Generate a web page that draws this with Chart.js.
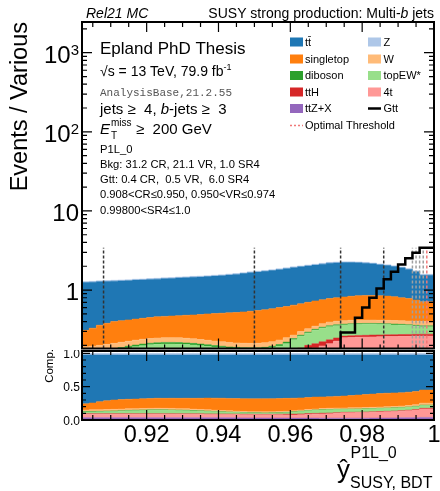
<!DOCTYPE html>
<html>
<head>
<meta charset="utf-8">
<script src="https://cdn.jsdelivr.net/npm/chart.js@4/dist/chart.umd.min.js"></script>
<style>
  html, body { margin: 0; padding: 0; background: #fff; }
  #wrap { position: relative; width: 440px; height: 491px; overflow: hidden; }
  canvas { position: absolute; left: 0; }
  #top { top: 0; }
  #comp { top: 350px; }
</style>
</head>
<body>
<div id="wrap">
  <canvas id="top" width="440" height="350"></canvas>
  <canvas id="comp" width="440" height="141"></canvas>
</div>
<script>
// BDT score bins, 0.002 wide
const xMin = 0.902, xMax = 1.0, binWidth = 0.002, nBins = 49;
const binEdges = [];
for (let i = 0; i <= nBins; i++) binEdges.push(+(xMin + i * binWidth).toFixed(3));

// background yields per bin, listed from the bottom of the stack upwards
const ttZX = [.045,.045,.045,.046,.046,.046,.047,.047,.047,.048,.048,.048,.049,.049,.049,.050,.050,.050,.051,.051,
  .051,.052,.052,.052,.053,.053,.053,.054,.055,.056,.057,.058,.059,.060,.061,.062,.062,.063,.063,.063,
  .063,.063,.063,.063,.063,.063,.063,.062,.062];
const fourTop = [.065,.066,.067,.067,.068,.069,.069,.070,.071,.071,.072,.073,.073,.074,.075,.075,.076,.077,.077,.078,
  .079,.079,.080,.081,.081,.082,.084,.086,.088,.090,.093,.102,.113,.125,.136,.148,.164,.187,.189,.191,
  .192,.193,.194,.195,.196,.197,.197,.199,.200];
const ttH = [.012,.011,.011,.011,.011,.011,.011,.011,.011,.011,.011,.011,.011,.011,.011,.011,.011,.011,.011,.011,
  .011,.012,.012,.012,.013,.014,.015,.016,.019,.022,.025,.025,.028,.025,.025,.025,.022,.012,.013,.013,
  .013,.014,.014,.014,.014,.014,.015,.015,.015];
const topEW = [.028,.030,.033,.036,.041,.046,.051,.057,.063,.068,.072,.074,.075,.074,.072,.069,.065,.060,.055,.050,
  .045,.039,.036,.033,.030,.028,.028,.030,.034,.042,.060,.075,.085,.100,.108,.110,.107,.100,.101,.101,
  .102,.100,.097,.094,.090,.086,.081,.074,.067];
const diboson = [.010,.010,.010,.010,.010,.010,.010,.010,.010,.010,.010,.010,.010,.010,.010,.010,.010,.010,.010,.009,
  .009,.009,.009,.009,.009,.009,.009,.009,.009,.010,.009,.009,.009,.009,.009,.009,.009,.009,.009,.009,
  .009,.009,.009,.009,.009,.009,.009,.009,.009];
const wjets = [.030,.030,.030,.030,.030,.030,.031,.031,.031,.031,.031,.032,.032,.032,.032,.031,.030,.029,.028,.028,
  .027,.027,.026,.026,.026,.027,.027,.027,.029,.030,.026,.031,.031,.031,.036,.041,.041,.039,.040,.041,
  .039,.039,.039,.039,.040,.041,.042,.044,.047];
const singletop = [.100,.118,.134,.160,.174,.188,.191,.194,.197,.201,.206,.212,.215,.220,.226,.234,.243,.253,.268,.278,
  .288,.297,.305,.317,.328,.337,.349,.358,.366,.370,.375,.370,.375,.380,.380,.385,.395,.410,.420,.432,
  .437,.437,.434,.426,.413,.390,.373,.347,.310];
const ttbar = [.948,.938,.928,.917,.907,.897,.896,.896,.906,.905,.915,.915,.929,.934,.948,.953,.968,.972,.982,.996,
  1.011,1.035,1.059,1.088,1.117,1.137,1.161,1.185,1.213,1.242,1.276,1.299,1.318,1.337,1.370,1.404,1.403,1.403,1.388,1.363,
  1.329,1.290,1.236,1.198,1.154,1.111,1.043,.956,.830];
const zjets = [.032,.032,.032,.033,.033,.033,.034,.034,.034,.035,.035,.035,.036,.036,.037,.037,.037,.038,.038,.039,
  .039,.040,.041,.042,.043,.043,.044,.045,.047,.048,.049,.051,.052,.053,.055,.056,.057,.057,.057,.057,
  .056,.055,.054,.052,.051,.049,.047,.044,.040];

// signal
const gtt = [.010,.010,.011,.011,.012,.012,.013,.013,.014,.014,.015,.015,.016,.017,.018,.018,.019,.020,.021,.022,
  .023,.024,.025,.027,.029,.031,.033,.035,.038,.041,.045,.050,.056,.064,.075,.090,.12,.29,.29,.446,
  .60,.80,1.05,1.37,1.70,2.11,2.52,2.96,3.42];

// region boundaries
const cutsRegion = [0.908, 0.950, 0.974, 0.986];
const cutsScan = [0.994, 0.995, 0.996, 0.997];
const cutsOptimal = [0.998];

// axes
const yMinTop = 0.1826, yMaxTop = 2445;
const compMax = 1.035;
const xMajor = [0.92, 0.94, 0.96, 0.98, 1.0];
const xMajorLabels = ["0.92", "0.94", "0.96", "0.98", "1"];
const yMajorTop = [1, 10, 100, 1000];
const yMajorTopLabels = [["1", ""], ["10", ""], ["10", "2"], ["10", "3"]];
const compMajor = [0, 0.5, 1.0];
const compMajorLabels = ["0.0", "0.5", "1.0"];

const xMinor = [];
for (let v = 0.905; v < 1.0; v += 0.005) xMinor.push(+v.toFixed(3));
const yMinorTop = [];
[0.1, 1, 10, 100, 1000].forEach(d => {
  for (let m = 2; m <= 9; m++) { const v = m * d; if (v > yMinTop && v < yMaxTop) yMinorTop.push(v); }
});
const compMinor = [0.1, 0.2, 0.3, 0.4, 0.6, 0.7, 0.8, 0.9];

const stack = [
  { name: "ttZ+X", data: ttZX, color: "#9467bd" },
  { name: "4t", data: fourTop, color: "#ff9896" },
  { name: "ttH", data: ttH, color: "#d62728" },
  { name: "topEW*", data: topEW, color: "#98df8a" },
  { name: "diboson", data: diboson, color: "#2ca02c" },
  { name: "W", data: wjets, color: "#ffbb78" },
  { name: "singletop", data: singletop, color: "#ff7f0e" },
  { name: "tt\u0304", data: ttbar, color: "#1f77b4" },
  { name: "Z", data: zjets, color: "#aec7e8" }
];

const legendCol1 = [["tt\u0304", "#1f77b4"], ["singletop", "#ff7f0e"], ["diboson", "#2ca02c"], ["ttH", "#d62728"], ["ttZ+X", "#9467bd"]];
const legendCol2 = [["Z", "#aec7e8"], ["W", "#ffbb78"], ["topEW*", "#98df8a"], ["4t", "#ff9896"]];

const SANS = '"Liberation Sans", Arial, Helvetica, sans-serif';
const MONO = '"Liberation Mono", "Courier New", monospace';
const font = (size, style) => (style ? style + " " : "") + size + "px " + SANS;

function histPoints(values) {
  const pts = values.map((v, i) => ({ x: binEdges[i], y: v }));
  pts.push({ x: binEdges[values.length], y: values[values.length - 1] });
  return pts;
}

const totals = ttbar.map((_, i) => stack.reduce((s, p) => s + p.data[i], 0));
let running = new Array(nBins).fill(0);
const topSets = [], compSets = [];
stack.forEach((p, k) => {
  running = running.map((r, i) => r + p.data[i]);
  const common = {
    fill: k === 0 ? "start" : "-1",
    backgroundColor: p.color,
    borderColor: p.color,
    borderWidth: 0.5,
    pointRadius: 0,
    stepped: "after",
    order: 3
  };
  topSets.push(Object.assign({ data: histPoints(running) }, common));
  compSets.push(Object.assign({ data: histPoints(running.map((r, i) => r / totals[i])) }, common));
});

const gttMax = Math.max(...gtt);
function cutSet(c, color) {
  return {
    data: [{ x: c, y: yMinTop }, { x: c, y: gttMax }],
    borderColor: color, borderWidth: 1.5, borderDash: [3, 2],
    pointRadius: 0, fill: false, order: 2
  };
}
cutsRegion.forEach(c => topSets.push(cutSet(c, "#333333")));
cutsScan.forEach(c => topSets.push(cutSet(c, "#a0a0a0")));
cutsOptimal.forEach(c => topSets.push(cutSet(c, "#f07878")));
topSets.push({
  data: histPoints(gtt), borderColor: "#000", borderWidth: 2.5,
  stepped: "after", pointRadius: 0, fill: false, order: 1
});

function rich(ctx, x, y, parts) {
  let cx = x;
  parts.forEach(([t, f, dy]) => {
    ctx.font = f;
    ctx.fillText(t, cx, y + (dy || 0));
    cx += ctx.measureText(t).width;
  });
  return cx;
}

function ticksX(ctx, xs, yEdge, dir, lenMaj, lenMin) {
  ctx.beginPath();
  xMinor.forEach(v => { const p = xs.getPixelForValue(v); ctx.moveTo(p, yEdge); ctx.lineTo(p, yEdge + dir * lenMin); });
  xMajor.forEach(v => { const p = xs.getPixelForValue(v); ctx.moveTo(p, yEdge); ctx.lineTo(p, yEdge + dir * lenMaj); });
  ctx.stroke();
}
function ticksY(ctx, ys, a, majors, minors, lenMaj, lenMin) {
  ctx.beginPath();
  minors.forEach(v => { const p = ys.getPixelForValue(v);
    ctx.moveTo(a.left, p); ctx.lineTo(a.left + lenMin, p); ctx.moveTo(a.right, p); ctx.lineTo(a.right - lenMin, p); });
  majors.forEach(v => { const p = ys.getPixelForValue(v);
    ctx.moveTo(a.left, p); ctx.lineTo(a.left + lenMaj, p); ctx.moveTo(a.right, p); ctx.lineTo(a.right - lenMaj, p); });
  ctx.stroke();
}

const topDecor = {
  id: "topDecor",
  afterDraw(chart) {
    const { ctx, chartArea: a } = chart;
    const xs = chart.scales.x, ys = chart.scales.y;
    ctx.save();
    ctx.strokeStyle = "#000";
    ctx.fillStyle = "#000";
    ctx.lineWidth = 1.2;
    ticksX(ctx, xs, a.top, 1, 10, 5);
    ticksX(ctx, xs, a.bottom, -1, 10, 4);
    ticksY(ctx, ys, a, yMajorTop, yMinorTop, 10, 5);
    ctx.lineWidth = 2;
    ctx.strokeRect(a.left, a.top, a.right - a.left, a.bottom - a.top);

    // y tick labels
    ctx.textBaseline = "alphabetic";
    yMajorTop.forEach((v, i) => {
      const p = ys.getPixelForValue(v);
      const [base, sup] = yMajorTopLabels[i];
      ctx.font = font(24);
      const wb = ctx.measureText(base).width;
      ctx.font = font(15);
      const ws = sup ? ctx.measureText(sup).width : 0;
      const x0 = 79 - wb - ws;
      ctx.textAlign = "left";
      ctx.font = font(24);
      ctx.fillText(base, x0, p + 10);
      if (sup) { ctx.font = font(15); ctx.fillText(sup, x0 + wb, p + 2); }
    });

    // y title
    ctx.save();
    ctx.translate(27, 22);
    ctx.rotate(-Math.PI / 2);
    ctx.textAlign = "right";
    ctx.font = font(23.5);
    ctx.fillText("Events / Various", 0, 0);
    ctx.restore();

    // header
    ctx.textAlign = "left";
    ctx.font = font(14, "italic");
    ctx.fillText("Rel21 MC", 86, 18);
    const hdr = [["SUSY strong production: Multi-", font(14)], ["b", font(14, "italic")], [" jets", font(14)]];
    let hw = 0;
    hdr.forEach(([t, f]) => { ctx.font = f; hw += ctx.measureText(t).width; });
    rich(ctx, 434 - hw, 18, hdr);

    // annotation block
    ctx.font = font(17);
    ctx.fillText("Epland PhD Thesis", 100, 54);
    rich(ctx, 100, 76, [["\u221As = 13 TeV, 79.9 fb", font(14)], ["-1", font(9), -6]]);
    ctx.fillStyle = "#555";
    ctx.font = "11px " + MONO;
    ctx.fillText("AnalysisBase,21.2.55", 100, 96);
    ctx.fillStyle = "#000";
    rich(ctx, 100, 114, [["jets \u2265  4, ", font(15)], ["b", font(15, "italic")], ["-jets \u2265  3", font(15)]]);
    ctx.font = font(15, "italic");
    ctx.fillText("E", 100, 133.5);
    ctx.font = font(10);
    ctx.fillText("miss", 111, 126);
    ctx.fillText("T", 111, 139);
    ctx.font = font(15);
    ctx.fillText("\u2265  200 GeV", 136, 133.5);
    ctx.font = font(11.2);
    const notes = ["P1L_0", "Bkg: 31.2 CR, 21.1 VR, 1.0 SR4", "Gtt: 0.4 CR,  0.5 VR,  6.0 SR4",
      "0.908<CR\u22640.950, 0.950<VR\u22640.974", "0.99800<SR4\u22641.0"];
    notes.forEach((t, i) => ctx.fillText(t, 100, 152.5 + i * 15.3));

    // legend
    const rows = [42, 59, 75.5, 92, 108.5, 125.5];
    ctx.font = font(11);
    ctx.textBaseline = "middle";
    legendCol1.forEach(([t, c], i) => {
      ctx.fillStyle = c; ctx.fillRect(290, rows[i] - 4.5, 13, 9);
      ctx.fillStyle = "#000"; ctx.fillText(t, 305, rows[i] + 0.5);
    });
    legendCol2.forEach(([t, c], i) => {
      ctx.fillStyle = c; ctx.fillRect(368, rows[i] - 4.5, 13, 9);
      ctx.fillStyle = "#000"; ctx.fillText(t, 383.5, rows[i] + 0.5);
    });
    ctx.lineWidth = 2.5;
    ctx.beginPath(); ctx.moveTo(368, rows[4]); ctx.lineTo(381, rows[4]); ctx.stroke();
    ctx.fillText("Gtt", 383.5, rows[4] + 0.5);
    ctx.strokeStyle = "#f07878";
    ctx.lineWidth = 1.5;
    ctx.setLineDash([2, 2]);
    ctx.beginPath(); ctx.moveTo(290, rows[5]); ctx.lineTo(303, rows[5]); ctx.stroke();
    ctx.setLineDash([]);
    ctx.fillText("Optimal Threshold", 305, rows[5] + 0.5);
    ctx.restore();
  }
};

const compDecor = {
  id: "compDecor",
  afterDraw(chart) {
    const { ctx, chartArea: a } = chart;
    const xs = chart.scales.x, ys = chart.scales.y;
    const off = 350;
    ctx.save();
    // dotted unity line
    ctx.strokeStyle = "#fff";
    ctx.lineWidth = 1;
    ctx.setLineDash([2, 2]);
    const p1 = ys.getPixelForValue(1.0) - 1;
    ctx.beginPath(); ctx.moveTo(a.left, p1); ctx.lineTo(a.right, p1); ctx.stroke();
    ctx.setLineDash([]);

    ctx.strokeStyle = "#000";
    ctx.fillStyle = "#000";
    ctx.lineWidth = 1.2;
    ticksX(ctx, xs, a.top, 1, 10, 4);
    ticksX(ctx, xs, a.bottom, -1, 10, 5);
    ticksY(ctx, ys, a, compMajor, compMinor, 8, 4);
    ctx.lineWidth = 2;
    ctx.strokeRect(a.left, a.top, a.right - a.left, a.bottom - a.top);

    // comp y labels
    ctx.font = font(12);
    ctx.textAlign = "right";
    ctx.textBaseline = "alphabetic";
    compMajor.forEach((v, i) => ctx.fillText(compMajorLabels[i], 80, ys.getPixelForValue(v) + 4.5));

    ctx.save();
    ctx.translate(53, 349 - off);
    ctx.rotate(-Math.PI / 2);
    ctx.font = font(11.5);
    ctx.textAlign = "right";
    ctx.fillText("Comp.", 0, 0);
    ctx.restore();

    // x labels
    ctx.font = font(23.5);
    ctx.textAlign = "center";
    xMajor.forEach((v, i) => ctx.fillText(xMajorLabels[i], xs.getPixelForValue(v), 441.7 - off));

    // x title
    ctx.textAlign = "left";
    ctx.font = font(26);
    ctx.fillText("\u0177", 337, 478 - off);
    ctx.font = font(16);
    ctx.fillText("P1L_0", 350.5, 458 - off);
    ctx.fillText("SUSY, BDT", 350, 487.5 - off);
    ctx.restore();
  }
};

const xScale = { type: "linear", min: xMin, max: xMax, display: false };

new Chart(document.getElementById("top"), {
  type: "line",
  data: { datasets: topSets },
  options: {
    responsive: false,
    animation: false,
    devicePixelRatio: 1,
    layout: { padding: { left: 82, right: 6, top: 22, bottom: 1.5 } },
    scales: {
      x: xScale,
      y: { type: "logarithmic", min: yMinTop, max: yMaxTop, display: false }
    },
    plugins: { legend: { display: false }, tooltip: { enabled: false } }
  },
  plugins: [topDecor]
});

new Chart(document.getElementById("comp"), {
  type: "line",
  data: { datasets: compSets },
  options: {
    responsive: false,
    animation: false,
    devicePixelRatio: 1,
    layout: { padding: { left: 82, right: 6, top: 1, bottom: 71 } },
    scales: {
      x: xScale,
      y: { type: "linear", min: 0, max: compMax, display: false }
    },
    plugins: { legend: { display: false }, tooltip: { enabled: false } }
  },
  plugins: [compDecor]
});
</script>
</body>
</html>
